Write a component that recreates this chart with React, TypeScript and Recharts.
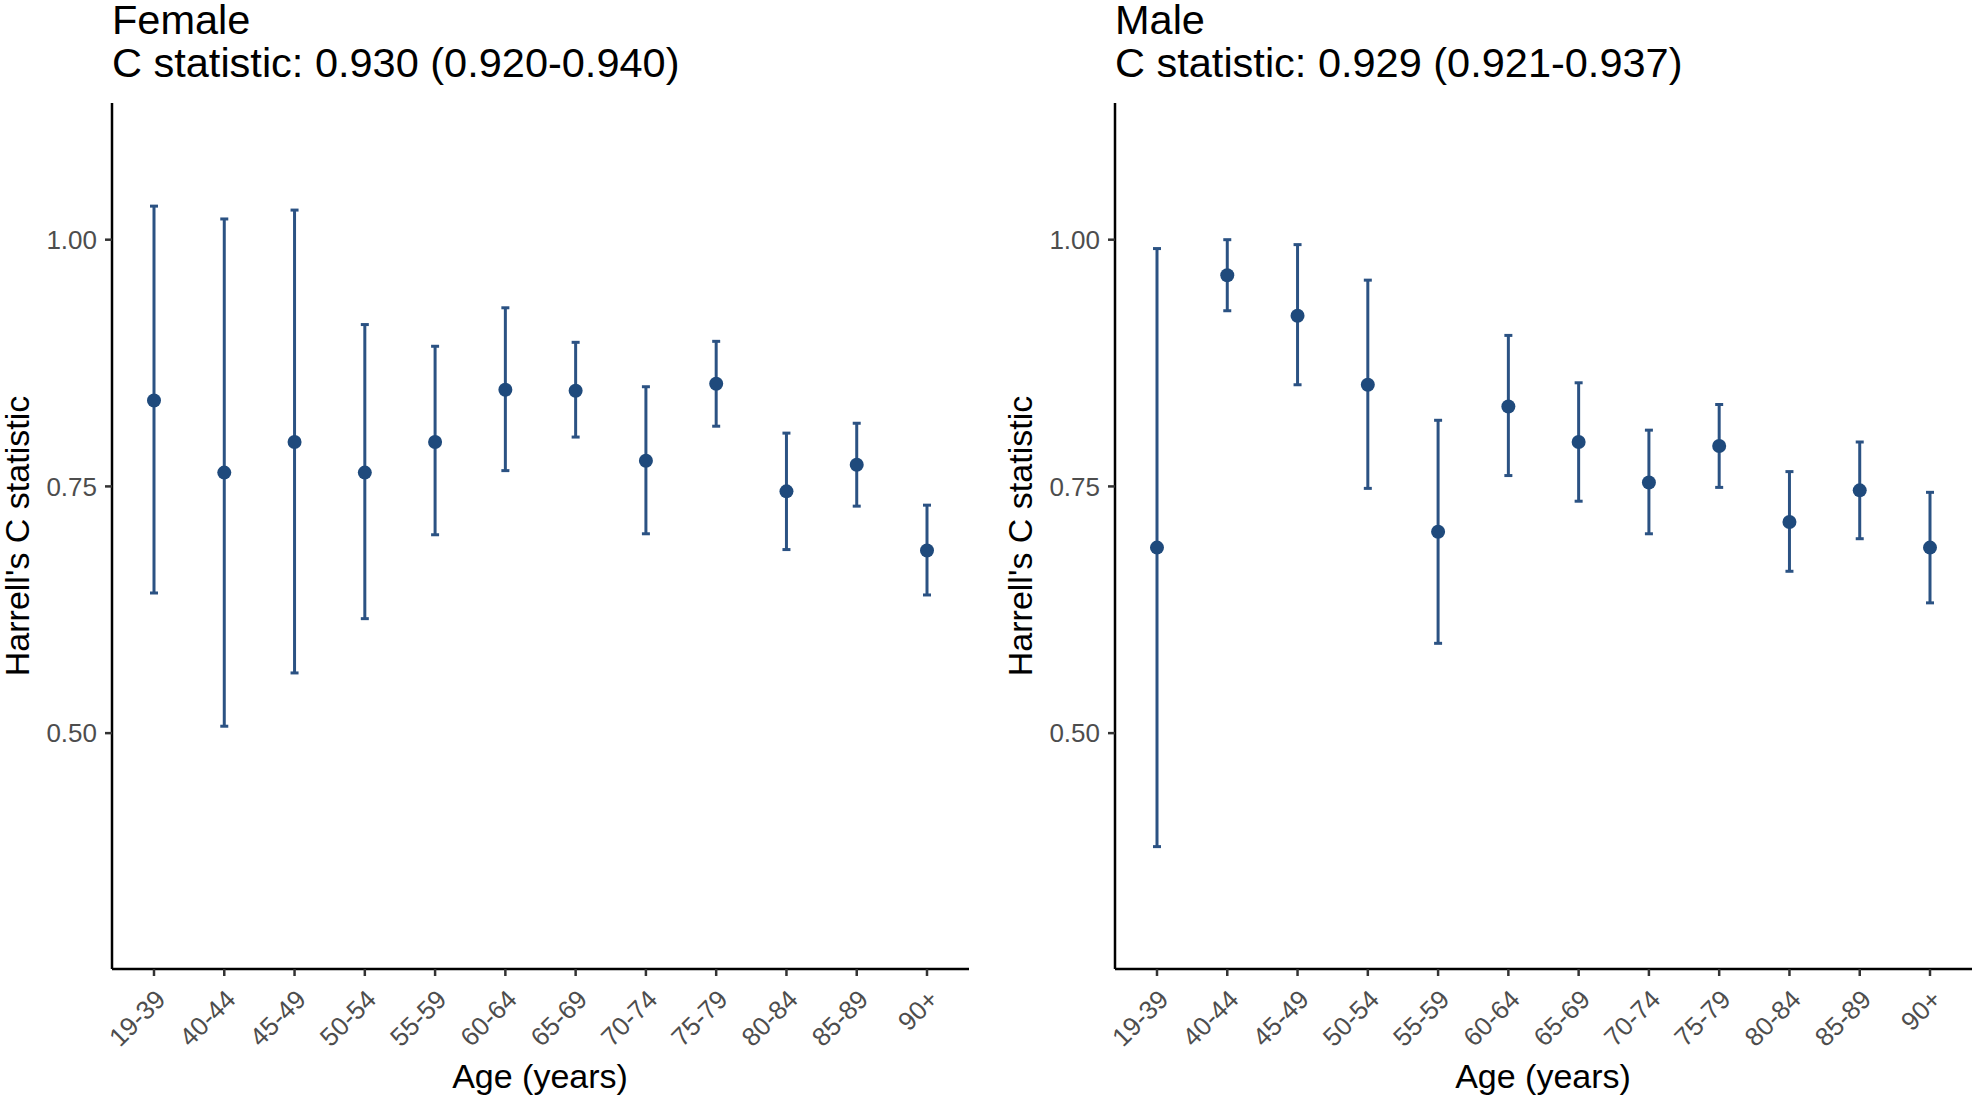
import React from 'react';
import { ComposedChart, Scatter, ErrorBar, XAxis, YAxis } from 'recharts';

// Harrell's C by age band, with 95% CI
const ageGroups = ['19-39', '40-44', '45-49', '50-54', '55-59', '60-64', '65-69', '70-74', '75-79', '80-84', '85-89', '90+'];

const femaleC = [0.837, 0.764, 0.795, 0.764, 0.795, 0.848, 0.847, 0.776, 0.854, 0.745, 0.772, 0.685];
const femaleLo = [0.642, 0.507, 0.561, 0.616, 0.701, 0.766, 0.8, 0.702, 0.811, 0.686, 0.73, 0.64];
const femaleHi = [1.034, 1.021, 1.03, 0.914, 0.892, 0.931, 0.896, 0.851, 0.897, 0.804, 0.814, 0.731];

const maleC = [0.688, 0.964, 0.923, 0.853, 0.704, 0.831, 0.795, 0.754, 0.791, 0.714, 0.746, 0.688];
const maleLo = [0.385, 0.928, 0.853, 0.748, 0.591, 0.761, 0.735, 0.702, 0.749, 0.664, 0.697, 0.632];
const maleHi = [0.991, 1.0, 0.995, 0.959, 0.817, 0.903, 0.855, 0.807, 0.833, 0.765, 0.795, 0.744];

const yTicks = [0.5, 0.75, 1.0];

const FONT = '"Liberation Sans", Arial, sans-serif';
const DOT = '#1f4a7c';
const BAR = '#2b5283';

const buildRows = (c: number[], lo: number[], hi: number[]) =>
  ageGroups.map((age, i) => ({ age, c: c[i], err: [c[i] - lo[i], hi[i] - c[i]] }));

const AgeTick = (props: any) => {
  const { x, y, payload } = props;
  const px = x + 13;
  const py = y + 23;
  return (
    <text
      x={px}
      y={py}
      transform={`rotate(-45 ${px} ${py})`}
      textAnchor="end"
      fill="#4d4d4d"
      fontSize={26}
      fontFamily={FONT}
    >
      {payload.value}
    </text>
  );
};

const Dot = (props: any) => <circle cx={props.cx} cy={props.cy} r={7} fill={DOT} />;

const Panel = ({ rows, width, right }: { rows: any[]; width: number; right: number }) => (
  <ComposedChart width={width} height={1098} data={rows} margin={{ top: 103, right, bottom: 29, left: 12 }}>
    <XAxis
      dataKey="age"
      type="category"
      scale="point"
      padding={{ left: 42, right: 42 }}
      height={100}
      axisLine={{ stroke: '#000', strokeWidth: 2.5 }}
      tickLine={{ stroke: '#333', strokeWidth: 2.5 }}
      tickSize={7}
      interval={0}
      tick={<AgeTick />}
    />
    <YAxis
      type="number"
      domain={[0.261, 1.1385]}
      allowDataOverflow
      ticks={yTicks}
      width={100}
      axisLine={{ stroke: '#000', strokeWidth: 2.5 }}
      tickLine={{ stroke: '#333', strokeWidth: 2.5 }}
      tickSize={7}
      tickMargin={8}
      tickFormatter={(v: number) => v.toFixed(2)}
      tick={{ fill: '#4d4d4d', fontSize: 26, fontFamily: FONT }}
    />
    <Scatter dataKey="c" shape={<Dot />} isAnimationActive={false}>
      <ErrorBar dataKey="err" direction="y" width={4} stroke={BAR} strokeWidth={3} isAnimationActive={false} />
    </Scatter>
  </ComposedChart>
);

const App = () => {
  const female = buildRows(femaleC, femaleLo, femaleHi);
  const male = buildRows(maleC, maleLo, maleHi);
  return (
    <div style={{ position: 'absolute', left: 0, top: 0, width: 1976, height: 1098, background: '#fff', overflow: 'hidden' }}>
      <div style={{ position: 'absolute', left: 0, top: 0 }}>
        <Panel rows={female} width={990} right={21} />
      </div>
      <div style={{ position: 'absolute', left: 1003, top: 0 }}>
        <Panel rows={male} width={973} right={4} />
      </div>
      <svg width={1976} height={1098} style={{ position: 'absolute', left: 0, top: 0, pointerEvents: 'none' }}>
        <g fontFamily={FONT} fill="#000">
          <text x={112} y={34} fontSize={41.5}>Female</text>
          <text x={112} y={77} fontSize={41.5}>C statistic: 0.930 (0.920-0.940)</text>
          <text x={1115} y={34} fontSize={41.5}>Male</text>
          <text x={1115} y={77} fontSize={41.5}>C statistic: 0.929 (0.921-0.937)</text>
          <text x={540} y={1088} fontSize={34} textAnchor="middle">Age (years)</text>
          <text x={1543} y={1088} fontSize={34} textAnchor="middle">Age (years)</text>
          <text transform="translate(29 536) rotate(-90)" fontSize={34} textAnchor="middle">Harrell's C statistic</text>
          <text transform="translate(1032 536) rotate(-90)" fontSize={34} textAnchor="middle">Harrell's C statistic</text>
        </g>
      </svg>
    </div>
  );
};

export default App;
